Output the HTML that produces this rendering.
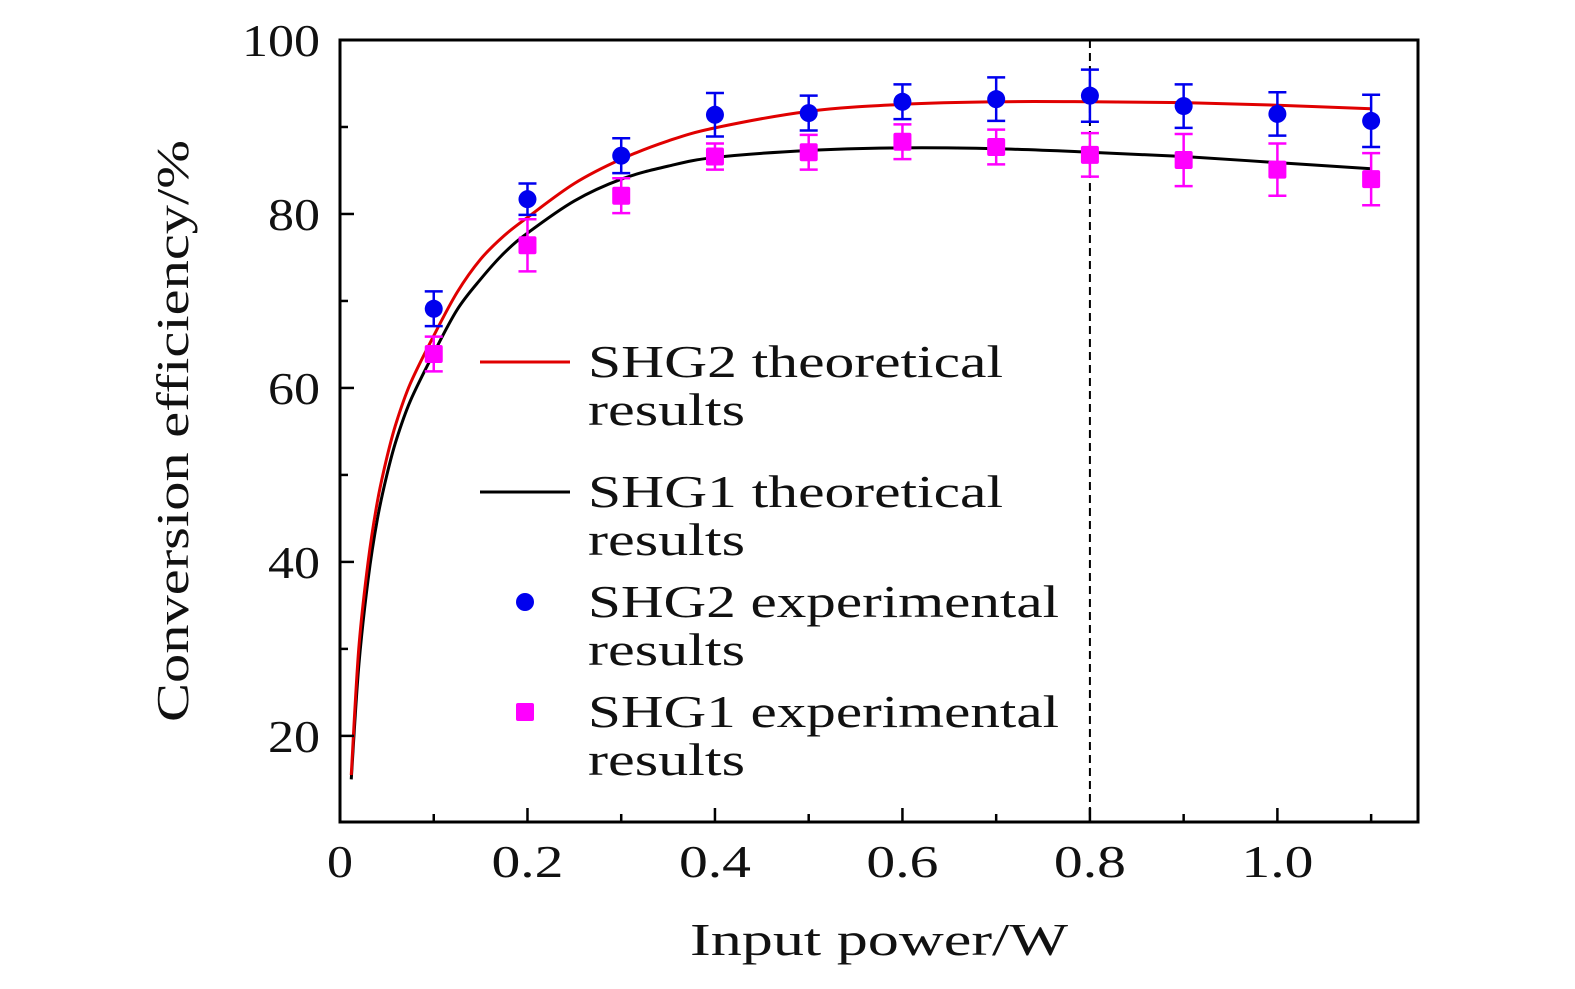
<!DOCTYPE html>
<html><head><meta charset="utf-8"><style>
body{margin:0;background:#fff;width:1575px;height:984px;overflow:hidden}
svg text{font-family:"Liberation Serif",serif;fill:#111}
</style></head><body>
<svg id="chart" width="1575" height="984" xmlns="http://www.w3.org/2000/svg"></svg>
<script>
const xTicks=[0,0.2,0.4,0.6,0.8,1.0];
const xTickLabels=["0","0.2","0.4","0.6","0.8","1.0"];
const yTicks=[20,40,60,80,100];
const yTickLabels=["20","40","60","80","100"];
const curveX=[0.012,0.02,0.03,0.04,0.05,0.06,0.075,0.1,0.125,0.15,0.175,0.2,0.25,0.3,0.35,0.4,0.5,0.6,0.7,0.8,0.9,1.0,1.1];
const shg2Theory=[15.5,30,40,47,52,56,60.5,66,71,74.8,77.5,79.6,83.5,86.3,88.4,89.9,91.8,92.6,92.9,92.9,92.8,92.5,92.1];
const shg1Theory=[15,28,38,45,50,54,58.5,64,69,72.5,75.5,77.8,81.5,84,85.5,86.5,87.3,87.6,87.5,87.1,86.6,85.9,85.2];
const expX=[0.1,0.2,0.3,0.4,0.5,0.6,0.7,0.8,0.9,1.0,1.1];
const shg2Exp=[69.1,81.7,86.7,91.4,91.6,92.9,93.2,93.6,92.4,91.5,90.7];
const shg2Err=[2,1.8,2,2.5,2,2,2.5,3,2.5,2.5,3];
const shg1Exp=[63.9,76.4,82.1,86.6,87.1,88.3,87.7,86.8,86.2,85.1,84.0];
const shg1Err=[2,3,2,1.5,2,2,2,2.5,3,3,3];
const markerX=0.8;

const NS="http://www.w3.org/2000/svg";
const svg=document.getElementById('chart');
const L=340,R=1418,T=40,B=822,xmin=0,xmax=1.15,ymin=10.1,ymax=100;
const sx=v=>L+(v-xmin)/(xmax-xmin)*(R-L);
const sy=v=>B-(v-ymin)/(ymax-ymin)*(B-T);
function el(tag,attrs,parent){const e=document.createElementNS(NS,tag);for(const k in attrs)e.setAttribute(k,attrs[k]);(parent||svg).appendChild(e);return e;}

const dl=el('line',{x1:sx(markerX),x2:sx(markerX),y1:T,y2:B,stroke:'#000','stroke-width':2,'stroke-dasharray':'8,5'});



function smoothPath(pts){
 let d='M'+pts[0][0]+','+pts[0][1];
 for(let i=0;i<pts.length-1;i++){
  const p0=pts[Math.max(0,i-1)],p1=pts[i],p2=pts[i+1],p3=pts[Math.min(pts.length-1,i+2)];
  const c1=[p1[0]+(p2[0]-p0[0])/6,p1[1]+(p2[1]-p0[1])/6];
  const c2=[p2[0]-(p3[0]-p1[0])/6,p2[1]-(p3[1]-p1[1])/6];
  d+=' C'+c1+' '+c2+' '+p2;
 }
 return d;
}
function curve(ys,color,name){
 const p=el('path',{d:smoothPath(curveX.map((x,i)=>[sx(x),sy(ys[i])])),fill:'none',stroke:color,'stroke-width':3,'stroke-linejoin':'round'});
 
 
}
curve(shg1Theory,'#000','shg1-theory-line');
curve(shg2Theory,'#e00000','shg2-theory-line');

function series(ys,errs,color,shape,name){
 const g=el('g',{});
 
 
 expX.forEach((x,i)=>{
  const cx=sx(x),y=ys[i],e=errs[i];
  el('line',{x1:cx,x2:cx,y1:sy(y+e),y2:sy(y-e),stroke:color,'stroke-width':2.5},g);
  el('line',{x1:cx-9,x2:cx+9,y1:sy(y+e),y2:sy(y+e),stroke:color,'stroke-width':2.5},g);
  el('line',{x1:cx-9,x2:cx+9,y1:sy(y-e),y2:sy(y-e),stroke:color,'stroke-width':2.5},g);
  let m;
  if(shape==='circle')m=el('circle',{cx:cx,cy:sy(y),r:9,fill:color},g);
  else m=el('rect',{x:cx-9,y:sy(y)-9,width:18,height:18,rx:2,fill:color},g);
  
  
 });
}
series(shg1Exp,shg1Err,'#ff00ff','square','shg1-experimental-series');
series(shg2Exp,shg2Err,'#0000ee','circle','shg2-experimental-series');

const fr=el('rect',{x:L,y:T,width:R-L,height:B-T,fill:'none',stroke:'#000','stroke-width':3});



for(let v=0.1;v<1.15;v+=0.2){el('line',{x1:sx(v),x2:sx(v),y1:B,y2:B-8,stroke:'#000','stroke-width':2.5});}
xTicks.forEach((v,i)=>{
 el('line',{x1:sx(v),x2:sx(v),y1:B,y2:B-14,stroke:'#000','stroke-width':2.5});
 const lab=xTickLabels[i];
 const w=lab.length===1?26:72;
 const t=el('text',{x:sx(v),y:877,'text-anchor':'middle','font-size':46,textLength:w,lengthAdjust:'spacingAndGlyphs'});
 t.textContent=lab;
 
 
});
for(let v=30;v<100;v+=20){el('line',{x1:L,x2:L+8,y1:sy(v),y2:sy(v),stroke:'#000','stroke-width':2.5});}
yTicks.forEach((v,i)=>{
 el('line',{x1:L,x2:L+14,y1:sy(v),y2:sy(v),stroke:'#000','stroke-width':2.5});
 const lab=yTickLabels[i];
 const t=el('text',{x:320,y:sy(v)+16,'text-anchor':'end','font-size':46,textLength:lab.length*26,lengthAdjust:'spacingAndGlyphs'});
 t.textContent=lab;
 
 
});

const xt=el('text',{x:690,y:955,'font-size':46,textLength:378,lengthAdjust:'spacingAndGlyphs'});
xt.textContent='Input power/W';


const yt=el('text',{x:0,y:0,'font-size':46,textLength:582,lengthAdjust:'spacingAndGlyphs',transform:'translate(188,722) rotate(-90)'});
yt.textContent='Conversion efficiency/%';



const lg=el('g',{});


const entries=[
 {y:362,type:'line',color:'#e00000',l1:'SHG2 theoretical',w:415},
 {y:492,type:'line',color:'#000',l1:'SHG1 theoretical',w:415},
 {y:602,type:'circle',color:'#0000ee',l1:'SHG2 experimental',w:471},
 {y:712,type:'square',color:'#ff00ff',l1:'SHG1 experimental',w:471}];
entries.forEach(e=>{
 const g=el('g',{},lg);
 
 
 if(e.type==='line')el('line',{x1:480,x2:570,y1:e.y,y2:e.y,stroke:e.color,'stroke-width':3},g);
 else if(e.type==='circle')el('circle',{cx:525,cy:e.y,r:9,fill:e.color},g);
 else el('rect',{x:516,y:e.y-9,width:18,height:18,rx:2,fill:e.color},g);
 const t1=el('text',{x:588,y:e.y+15,'font-size':46,textLength:e.w,lengthAdjust:'spacingAndGlyphs'},g);t1.textContent=e.l1;
 const t2=el('text',{x:588,y:e.y+63,'font-size':46,textLength:157,lengthAdjust:'spacingAndGlyphs'},g);t2.textContent='results';
});
</script>
</body></html>
